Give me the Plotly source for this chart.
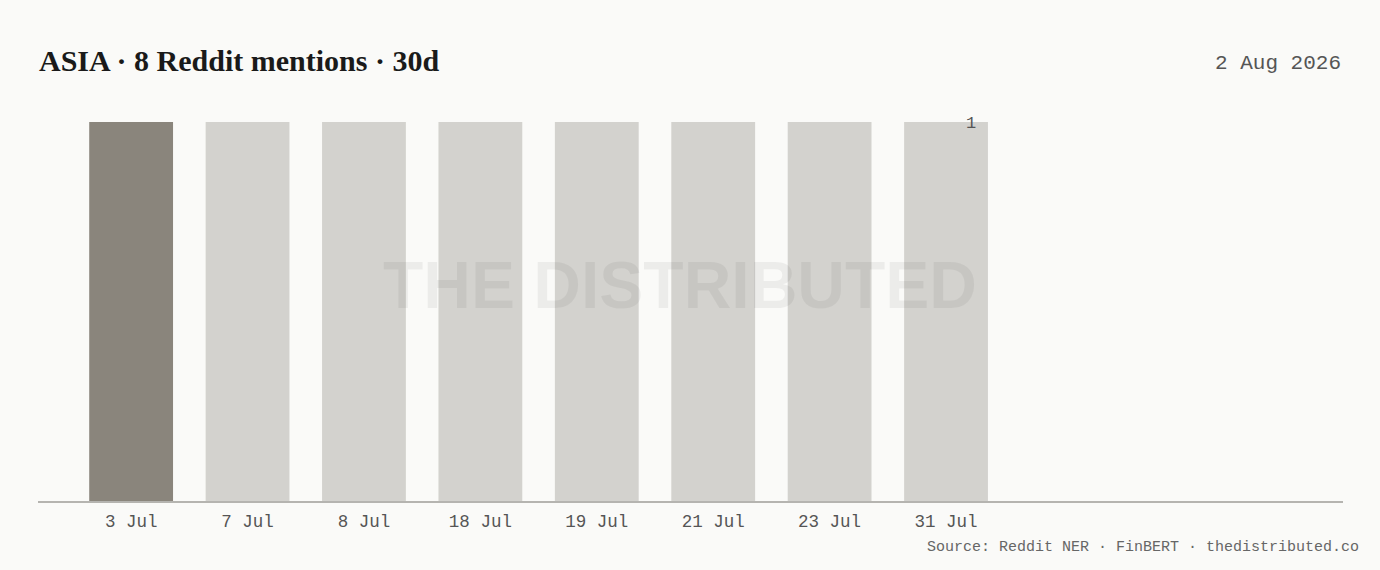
"""ASIA Reddit mentions over 30 days: bar chart with watermark."""

import plotly.graph_objects as go

# data
dates = ["3 Jul", "7 Jul", "8 Jul", "18 Jul", "19 Jul", "21 Jul", "23 Jul", "31 Jul"]
mentions = [1, 1, 1, 1, 1, 1, 1, 1]
highlight_idx = 0

TITLE = "ASIA · 8 Reddit mentions · 30d"
DATE_LABEL = "2 Aug 2026"
SOURCE = "Source: Reddit NER · FinBERT · thedistributed.co"

BG = "#fafaf8"
BAR = "#d3d2ce"
BAR_HI = "#8a857c"
MONO = "Liberation Mono, DejaVu Sans Mono, monospace"
SERIF = "Liberation Serif, DejaVu Serif, serif"

colors = [BAR_HI if i == highlight_idx else BAR for i in range(len(dates))]

fig = go.Figure(
    go.Bar(
        x=dates,
        y=mentions,
        marker=dict(color=colors, line=dict(width=0)),
        hoverinfo="skip",
    )
)

fig.update_layout(
    width=1380,
    height=570,
    paper_bgcolor=BG,
    plot_bgcolor=BG,
    margin=dict(l=38, r=37, t=122, b=69),
    bargap=0.28,
    showlegend=False,
    xaxis=dict(
        type="category",
        range=[-0.8, 10.41],
        showgrid=False,
        showline=True,
        linecolor="#b5b4b0",
        linewidth=1.5,
        ticks="",
        ticklabelstandoff=3,
        tickfont=dict(family=MONO, size=17.5, color="#555"),
        fixedrange=True,
    ),
    yaxis=dict(
        range=[0, 1],
        visible=False,
        fixedrange=True,
    ),
)

# title / date / source
fig.add_annotation(
    text=f"<b>{TITLE}</b>", xref="paper", yref="paper", x=-0.001, y=1.0, yshift=62,
    xanchor="left", yanchor="middle", showarrow=False,
    font=dict(family=SERIF, size=30, color="#1a1a1a"),
)
fig.add_annotation(
    text=DATE_LABEL, xref="paper", yref="paper", x=1.0, y=1.0, yshift=59,
    xanchor="right", yanchor="middle", showarrow=False,
    font=dict(family=MONO, size=21, color="#555"),
)
fig.add_annotation(
    text=SOURCE, xref="paper", yref="paper", x=1.0, y=0, xshift=18, yshift=-46,
    xanchor="right", yanchor="middle", showarrow=False,
    font=dict(family=MONO, size=15, color="#666"),
)

# max label on last bar
fig.add_annotation(
    text=str(max(mentions)), x=dates[-1], y=max(mentions), xshift=25, yshift=-1,
    xanchor="center", yanchor="middle", showarrow=False,
    font=dict(family=MONO, size=17, color="#555"),
)

# watermark
fig.add_annotation(
    text="<b>THE DISTRIBUTED</b>", xref="paper", yref="paper", x=0.492, y=0.57,
    xanchor="center", yanchor="middle", showarrow=False,
    font=dict(family="Liberation Sans, Arial, sans-serif", size=66,
              color="rgba(0,0,0,0.055)"),
)

fig.write_html(
    "out.html",
    config={"displayModeBar": False},
    post_script="document.body.style.margin='0';"
    "document.body.style.background='#fafaf8';",
)
